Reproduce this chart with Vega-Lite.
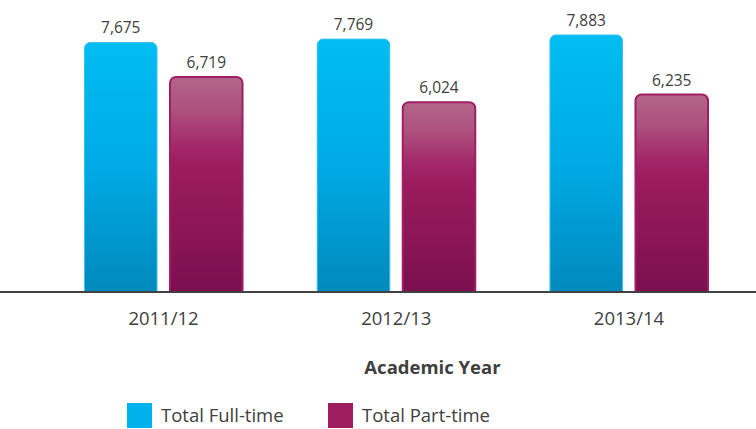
{
  "$schema": "https://vega.github.io/schema/vega-lite/v6.json",
  "width": 756,
  "height": 292,
  "autosize": {"type": "none"},
  "padding": {"left": 0, "top": 0, "right": 0, "bottom": 137},
  "config": {"view": {"stroke": null}, "font": "Open Sans"},
  "data": {
    "values": [
      {"year": "2011/12", "type": "Total Full-time", "value": 7675},
      {"year": "2011/12", "type": "Total Part-time", "value": 6719},
      {"year": "2012/13", "type": "Total Full-time", "value": 7769},
      {"year": "2012/13", "type": "Total Part-time", "value": 6024},
      {"year": "2013/14", "type": "Total Full-time", "value": 7883},
      {"year": "2013/14", "type": "Total Part-time", "value": 6235}
    ]
  },
  "encoding": {
    "x": {
      "field": "year", "type": "nominal",
      "scale": {"range": [84.5, 708], "paddingInner": 0.321, "paddingOuter": 0},
      "title": "Academic Year",
      "axis": {
        "domain": false, "ticks": false, "labelAngle": 0,
        "labelFontSize": 18.5, "labelColor": "#404040", "labelPadding": 17,
        "titleFontSize": 18.5, "titleFontWeight": "bold", "titleColor": "#404040",
        "titleX": 432, "titleY": 75, "titleBaseline": "middle"
      }
    },
    "xOffset": {"field": "type", "type": "nominal", "scale": {"domain": ["Total Full-time", "Total Part-time"], "paddingInner": 0.152, "paddingOuter": 0}},
    "y": {"field": "value", "type": "quantitative", "scale": {"domain": [775, 8850], "zero": false}, "axis": null}
  },
  "layer": [
    {
      "mark": {"type": "bar", "cornerRadiusTopLeft": 6, "cornerRadiusTopRight": 6},
      "encoding": {
        "y2": {"datum": 775},
        "color": {
          "field": "type", "type": "nominal",
          "scale": {"domain": ["Total Full-time", "Total Part-time"], "range": ["#00b2ec", "#9e1c60"]},
          "legend": {
            "orient": "none", "legendX": 127, "legendY": 403, "direction": "horizontal",
            "title": null, "symbolType": "square", "symbolSize": 625, "symbolStrokeWidth": 0,
            "labelFontSize": 18.5, "labelColor": "#404040", "labelOffset": 9, "columnPadding": 44
          }
        }
      }
    },
    {
      "transform": [{"filter": "datum.type === 'Total Full-time'"}],
      "mark": {"type": "bar", "cornerRadiusTopLeft": 6, "cornerRadiusTopRight": 6,
        "stroke": "#3cc3f0", "strokeWidth": 1,
        "fill": {"gradient": "linear", "x1": 0, "y1": 0, "x2": 0, "y2": 1,
          "stops": [{"offset": 0, "color": "#00bdf1"}, {"offset": 0.5, "color": "#00aae5"}, {"offset": 1, "color": "#0089bc"}]}},
      "encoding": {"y2": {"datum": 775}}
    },
    {
      "transform": [{"filter": "datum.type === 'Total Part-time'"}],
      "mark": {"type": "bar", "cornerRadiusTopLeft": 6, "cornerRadiusTopRight": 6,
        "stroke": "#a01e63", "strokeWidth": 2,
        "fill": {"gradient": "linear", "x1": 0, "y1": 0, "x2": 0, "y2": 1,
          "stops": [{"offset": 0, "color": "#b4658a"}, {"offset": 0.15, "color": "#ad527d"}, {"offset": 0.33, "color": "#a2266a"}, {"offset": 0.42, "color": "#9c1c5f"}, {"offset": 1, "color": "#7b0f4f"}]}},
      "encoding": {"y2": {"datum": 775}}
    },
    {
      "mark": {"type": "text", "dy": -14, "fontSize": 15.5, "color": "#404040", "baseline": "middle"},
      "encoding": {
        "text": {"field": "value", "type": "quantitative", "format": ","}
      }
    },
    {
      "mark": {"type": "rule", "color": "#404040", "strokeWidth": 1},
      "encoding": {"x": null, "xOffset": null, "y": {"datum": 775}}
    }
  ]
}
